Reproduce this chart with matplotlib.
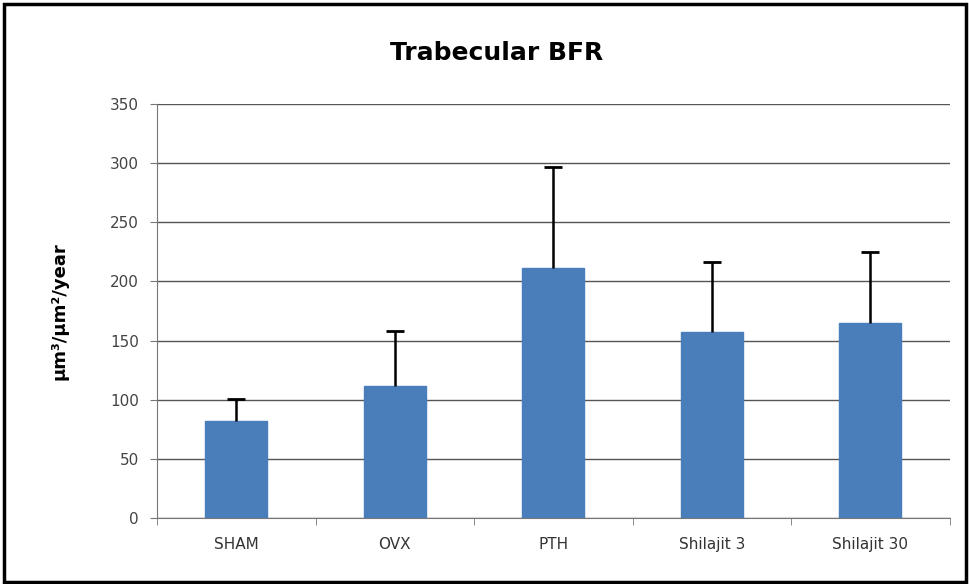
import matplotlib.pyplot as plt
from matplotlib.patches import Rectangle
import numpy as np

groups = ["SHAM", "OVX", "PTH", "Shilajit 3", "Shilajit 30"]
bfr = [82, 112, 211, 157, 165]
bfr_sd = [19, 46, 86, 59, 60]
y_ticks = [0, 50, 100, 150, 200, 250, 300, 350]

fig = plt.figure(figsize=(9.7, 5.84), dpi=100)
ax = fig.add_axes([0.162, 0.113, 0.817, 0.709])

x = np.arange(len(groups))
tops = np.array(bfr) + np.array(bfr_sd)
ax.bar(x, bfr, width=0.39, color="#4a7ebb", edgecolor="#4a7ebb", zorder=3)
# upper error bars only, cap at the top
ax.vlines(x, bfr, tops, color="black", linewidth=1.8, zorder=4)
ax.plot(x, tops, linestyle="none", marker="_", markersize=13,
        markeredgewidth=2, color="black", zorder=4)

ax.set_xlim(-0.5, len(groups) - 0.5)
ax.set_ylim(0, 350)
ax.set_yticks(y_ticks)
ax.set_xticks(x)
ax.set_xticklabels(groups)
ax.set_xticks(np.arange(-0.5, len(groups), 1), minor=True)
ax.tick_params(axis="x", which="major", length=0, pad=14, labelsize=11, labelcolor="#333333")
ax.tick_params(axis="x", which="minor", length=5, color="#777777")
ax.tick_params(axis="y", length=5, color="#777777", labelsize=11, labelcolor="#444444", pad=8)
ax.yaxis.grid(True, color="#555555", linewidth=1.0, zorder=0)

for s in ["top", "right"]:
    ax.spines[s].set_visible(False)
ax.spines["left"].set_color("#777777")
ax.spines["bottom"].set_color("#777777")

ax.set_ylabel("µm³/µm²/year", fontsize=13, fontweight="bold", labelpad=30)
fig.text(0.512, 0.91, "Trabecular BFR", ha="center", va="center",
         fontsize=18, fontweight="bold")

fig.patches.append(Rectangle((0.004, 0.004), 0.992, 0.99, transform=fig.transFigure,
                             fill=False, edgecolor="black", linewidth=2.5))

fig.savefig("out.png", dpi=100)
